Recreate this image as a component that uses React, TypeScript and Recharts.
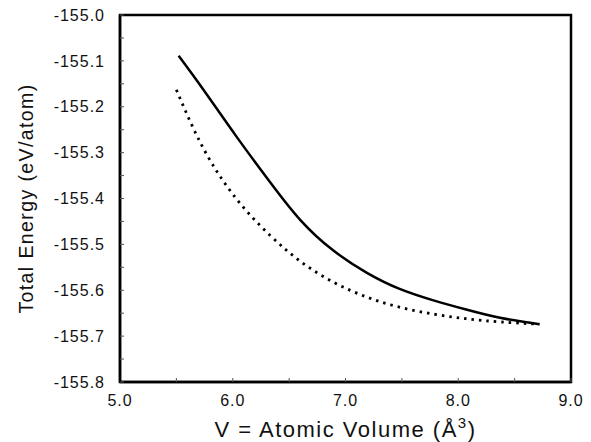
import React from "react";
import { LineChart, Line, XAxis, YAxis, ReferenceArea } from "recharts";

const solidVolume = [5.52, 5.74, 6.03, 6.33, 6.6, 6.89, 7.19, 7.48, 7.78, 8.07, 8.37, 8.72];
const solidEnergy = [-155.089, -155.163, -155.264, -155.364, -155.447, -155.513, -155.562, -155.597, -155.622, -155.642, -155.66, -155.674];

const dottedVolume = [5.5, 5.74, 6.03, 6.33, 6.6, 6.89, 7.19, 7.48, 7.78, 8.07, 8.37, 8.72];
const dottedEnergy = [-155.163, -155.291, -155.4, -155.48, -155.537, -155.582, -155.615, -155.637, -155.652, -155.662, -155.669, -155.674];

const xTicks = [5, 5.5, 6, 6.5, 7, 7.5, 8, 8.5, 9];
const yTicks = [-155.8, -155.75, -155.7, -155.65, -155.6, -155.55, -155.5, -155.45, -155.4, -155.35, -155.3, -155.25, -155.2, -155.15, -155.1, -155.05, -155.0];

const solidData = solidVolume.map((v, i) => ({ v, e: solidEnergy[i] }));
const dottedData = dottedVolume.map((v, i) => ({ v, e: dottedEnergy[i] }));

const font = "'Liberation Sans', Arial, Helvetica, sans-serif";

const isMajor = (val: number, step: number) => {
  const r = Math.round(val * 100);
  return r % step === 0;
};

const YTitle = (props: any) => {
  const vb = props.viewBox;
  const cx = vb.x + 33;
  const cy = vb.y + vb.height / 2;
  return (
    <text
      x={cx}
      y={cy}
      transform={`rotate(-90, ${cx}, ${cy})`}
      textAnchor="middle"
      fontFamily={font}
      fontSize={19.5}
      letterSpacing={1.4}
      fill="#111"
    >
      Total Energy (eV/atom)
    </text>
  );
};

const XTitle = (props: any) => {
  const vb = props.viewBox;
  const cx = vb.x + vb.width / 2;
  const cy = vb.y + 55;
  return (
    <text
      x={cx}
      y={cy}
      textAnchor="middle"
      fontFamily={font}
      fontSize={22}
      letterSpacing={1.5}
      fill="#111"
    >
      V = Atomic Volume (Å
      <tspan dy={-9} fontSize={15}>3</tspan>
      <tspan dy={9}>)</tspan>
    </text>
  );
};

export default function App() {
  return (
    <div
      style={{
        position: "absolute",
        left: 0,
        top: 0,
        background: "#fff",
        width: 591,
        height: 442,
        overflow: "hidden",
      }}
    >
      <LineChart
        width={591}
        height={442}
        margin={{ top: 15, right: 20, bottom: 0, left: 0 }}
        style={{ overflow: "visible" }}
      >
        <XAxis
          type="number"
          dataKey="v"
          domain={[5, 9]}
          ticks={xTicks}
          allowDataOverflow
          height={60}
          axisLine={{ stroke: "#000", strokeWidth: 2.5 }}
          tickLine={{ stroke: "#555", strokeWidth: 1 }}
          tickSize={-4}
          tickMargin={17}
          tickFormatter={(val: number) => (isMajor(val, 100) ? val.toFixed(1) : "")}
          tick={{ fill: "#111", fontFamily: font, fontSize: 16, letterSpacing: 1 }}
          label={<XTitle />}
        />
        <YAxis
          type="number"
          dataKey="e"
          domain={[-155.8, -155.0]}
          ticks={yTicks}
          allowDataOverflow
          width={120}
          interval={0}
          axisLine={{ stroke: "#000", strokeWidth: 2.5 }}
          tickLine={{ stroke: "#555", strokeWidth: 1 }}
          tickSize={-4}
          tickMargin={19}
          tickFormatter={(val: number) => (isMajor(val, 10) ? val.toFixed(1) : "")}
          tick={{ fill: "#111", fontFamily: font, fontSize: 16, letterSpacing: 1 }}
          label={<YTitle />}
        />
        <ReferenceArea
          x1={5}
          x2={9}
          y1={-155.8}
          y2={-155.0}
          fill="none"
          fillOpacity={0}
          stroke="#000"
          strokeWidth={2.5}
          ifOverflow="visible"
        />
        <Line
          data={solidData}
          dataKey="e"
          type="natural"
          stroke="#000"
          strokeWidth={2.5}
          dot={false}
          activeDot={false}
          isAnimationActive={false}
        />
        <Line
          data={dottedData}
          dataKey="e"
          type="natural"
          stroke="#000"
          strokeWidth={2.8}
          strokeDasharray="2.5 5"
          dot={false}
          activeDot={false}
          isAnimationActive={false}
        />
      </LineChart>
    </div>
  );
}
